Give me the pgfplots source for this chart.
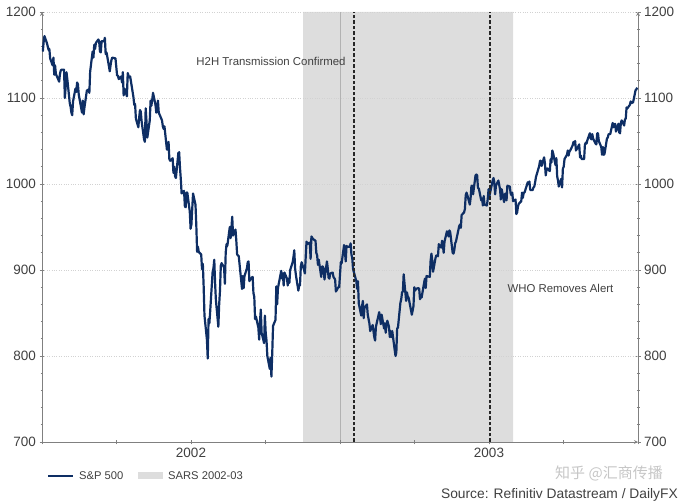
\documentclass[border=0pt]{standalone}
\usepackage{fontspec}
\setmainfont{Liberation Sans}
\newfontfamily\cjk{Noto Sans CJK SC}
\usepackage{pgfplots}
\pgfplotsset{compat=1.18}

\definecolor{spblue}{RGB}{14,46,100}
\definecolor{sarsgray}{RGB}{221,221,221}
\definecolor{axisgray}{RGB}{128,128,128}
\definecolor{txtgray}{RGB}{64,64,64}

% x = days since 1 Jan 2002
\pgfplotsset{
  base/.style={
    at={(42bp,60bp)}, anchor=south west, scale only axis,
    width=596bp, height=430bp,
    xmin=0, xmax=730, ymin=700, ymax=1200,
    ytick={700,800,...,1200}, minor y tick num=4,
    tick align=outside, major tick length=5bp, minor tick length=3bp,
    axis line style={-, axisgray, line width=0.8bp},
    tick style={axisgray, line width=0.8bp},
    ticklabel style={font=\fontsize{13.5bp}{16bp}\selectfont, text=txtgray},
    /pgf/number format/1000 sep={},
    /pgf/number format/assume math mode=true,
  }
}

\begin{document}
\begin{tikzpicture}
\path[use as bounding box] (0,0) rectangle (680bp,502bp);

% right axis + SARS period
\begin{axis}[base, axis y line=right, axis x line=none]
  \addplot[fill=sarsgray, draw=none] coordinates {(319.7,700)(319.7,1200)(577,1200)(577,700)} \closedcycle;
  \addplot[gray!60, line width=0.5bp] coordinates {(365,700)(365,1200)};
\end{axis}

% left axis + S&P 500
\begin{axis}[base, axis y line=left, axis x line=bottom,
  xtick={0,91.25,182.5,273.75,365,456.25,547.5,638.75,730},
  xticklabels={,,2002,,,,2003,,},
  ymajorgrids, major grid style={gray!35, dotted, line width=0.7bp}]
  \addplot[spblue, line width=2.2bp, line join=round] coordinates {
    (1,1154)(2,1165)(3,1172)(6,1164)(7,1160)(8,1156)(9,1157)(10,1146)(13,1138)(14,1147)(15,1127)(16,1138)(17,1128)(21,1119)(22,1128)(23,1132)(24,1133)(27,1133)(28,1100)(29,1113)(30,1130)
    (31,1122)(34,1094)(35,1090)(36,1083)(37,1080)(38,1096)(41,1111)(42,1107)(43,1118)(44,1116)(45,1104)(49,1083)(50,1097)(51,1081)(52,1089)(55,1109)(56,1109)(57,1110)(58,1106)
    (59,1131)(62,1154)(63,1147)(64,1162)(65,1157)(66,1164)(69,1168)(70,1166)(71,1154)(72,1153)(73,1166)(76,1166)(77,1170)(78,1151)(79,1153)(80,1148)(83,1131)(84,1138)(85,1144)(86,1147)
    (90,1146)(91,1136)(92,1126)(93,1126)(94,1122)(97,1125)(98,1118)(99,1130)(100,1103)(101,1111)(104,1102)(105,1129)(106,1126)(107,1124)(108,1125)(111,1107)(112,1101)(113,1092)(114,1093)(115,1076)(118,1066)(119,1077)
    (120,1086)(121,1084)(122,1073)(125,1052)(126,1049)(127,1088)(128,1073)(129,1054)(132,1074)(133,1097)(134,1091)(135,1098)(136,1106)(139,1092)(140,1083)(141,1086)(142,1097)(143,1083)(147,1074)(148,1067)(149,1064)(150,1067)
    (153,1040)(154,1040)(155,1049)(156,1029)(157,1027)(160,1030)(161,1013)(162,1020)(163,1009)(164,1007)(167,1036)(168,1037)(169,1019)(170,1006)(171,989)(174,992)(175,974)(176,973)(177,990)(178,990)
    (181,968)(182,948)(183,953)(185,989)(188,976)(189,952)(190,921)(191,927)(192,921)(195,918)(196,901)(197,907)(198,881)(199,847)(202,819)(203,797)(204,843)(205,838)(206,852)(209,898)(210,902)(211,912)
    (212,885)(213,865)(216,834)(217,860)(218,876)(219,905)(220,908)(223,903)(224,884)(225,920)(226,930)(227,928)(230,950)(231,937)(232,949)(233,962)(234,940)(237,947)(238,934)(239,918)(240,917)(241,916)
    (245,878)(246,893)(247,879)(248,893)(251,902)(252,909)(253,910)(254,887)(255,889)(258,892)(259,873)(260,869)(261,843)(262,846)(265,833)(266,819)(267,840)(268,854)(269,827)(272,815)
    (273,847)(274,827)(275,818)(276,800)(279,785)(280,798)(281,776)(282,803)(283,835)(286,842)(287,881)(288,860)(289,879)(290,884)(293,899)(294,890)(295,896)(296,882)(297,897)(300,890)(301,882)(302,890)(303,885)
    (304,900)(307,909)(308,915)(309,923)(310,902)(311,894)(314,876)(315,882)(316,882)(317,904)(318,909)(321,900)(322,896)(323,915)(324,933)(325,930)(328,932)(329,913)(330,939)(332,936)
    (335,934)(336,920)(337,917)(338,906)(339,912)(342,892)(343,904)(344,904)(345,901)(346,889)(349,910)(350,902)(351,891)(352,890)(353,896)(356,897)(357,892)(359,889)(360,875)(363,880)(364,880)
    (366,909)(367,908)(370,929)(371,922)(372,910)(373,928)(374,927)(377,927)(378,931)(379,918)(380,914)(381,901)(385,887)(386,878)(387,887)(388,861)(391,847)(392,858)(393,864)(394,844)(395,856)
    (398,860)(399,848)(400,843)(401,838)(402,829)(405,836)(406,829)(407,822)(408,818)(409,834)(413,851)(414,845)(415,837)(416,848)(419,832)(420,838)(421,827)(422,837)(423,841)
    (425,834)(426,822)(427,829)(428,822)(429,829)(432,807)(433,800)(434,804)(435,832)(436,833)(439,862)(440,866)(441,874)(442,875)(443,895)(446,864)(447,874)(448,869)(449,868)(450,863)(453,848)
    (455,858)(456,880)(457,876)(458,878)(461,879)(462,878)(463,866)(464,871)(465,868)(468,885)(469,890)(470,879)(471,893)(475,892)(476,911)(477,919)(478,911)(479,898)(482,914)(483,917)(484,917)
    (485,916)(486,930)(489,926)(490,934)(491,929)(492,920)(493,933)(496,945)(497,942)(498,939)(499,946)(500,944)(503,920)(504,919)(505,923)(506,931)(507,933)(511,951)(512,953)(513,949)(514,964)
    (517,967)(518,971)(519,987)(520,990)(521,987)(524,976)(525,984)(526,998)(527,998)(528,988)(531,1010)(532,1011)(533,1010)(534,995)(535,995)(538,981)(539,983)(540,975)(541,986)(542,976)(545,975)
    (546,983)(547,994)(548,986)(552,1004)(553,1007)(554,1002)(555,988)(556,998)(559,1004)(560,999)(561,994)(562,982)(563,994)(566,979)(567,988)(568,989)(569,981)(570,998)(573,997)(574,989)(575,987)(576,990)
    (577,980)(580,982)(581,965)(582,967)(583,974)(584,977)(587,980)(588,990)(589,984)(590,990)(591,990)(594,999)(595,1002)(596,1000)(597,1003)(598,993)(601,993)(602,996)(603,997)(604,1002)(605,1008)
    (609,1021)(610,1027)(611,1027)(612,1021)(615,1031)(616,1024)(617,1010)(618,1017)(619,1018)(622,1015)(623,1029)(624,1025)(625,1039)(626,1036)(629,1022)(630,1030)(631,1009)(632,1004)(633,997)(636,1006)(637,996)
    (638,1018)(639,1020)(640,1029)(643,1034)(644,1039)(645,1033)(646,1038)(647,1039)(650,1045)(651,1049)(652,1046)(653,1050)(654,1039)(657,1044)(658,1046)(659,1031)(660,1033)(661,1029)(664,1029)(665,1046)(666,1048)(667,1047)(668,1051)
    (671,1059)(672,1053)(673,1052)(674,1058)(675,1053)(678,1047)(679,1046)(680,1059)(681,1059)(682,1050)(685,1043)(686,1034)(687,1043)(688,1034)(689,1035)(692,1053)(693,1054)(694,1058)(696,1058)
    (699,1071)(700,1066)(701,1069)(702,1070)(703,1061)(706,1070)(707,1060)(708,1059)(709,1071)(710,1074)(713,1068)(714,1075)(715,1076)(716,1089)(717,1088)(720,1092)(721,1096)(722,1094)(724,1095)(727,1109)(728,1110)(729,1112)
  };
  \addplot[black!85, line width=2.2bp, dash pattern=on 3.5bp off 2bp] coordinates {(382,700)(382,1200)};
  \addplot[black!85, line width=2.2bp, dash pattern=on 3.5bp off 2bp] coordinates {(548.7,700)(548.7,1200)};
  \node[font=\fontsize{11.4bp}{13bp}\selectfont, text=txtgray] at (axis cs:280.5,1142) {H2H Transmission Confirmed};
  \node[font=\fontsize{11.4bp}{13bp}\selectfont, text=txtgray] at (axis cs:635,879) {WHO Removes Alert};
\end{axis}

% legend and source
\draw[spblue, line width=2.2bp] (48bp,26bp) -- (73bp,26bp);
\node[anchor=west, inner sep=0, font=\fontsize{11.2bp}{13bp}\selectfont, text=txtgray] at (79bp,26bp) {S\&P 500};
\fill[sarsgray] (138bp,22.5bp) rectangle (163bp,29.5bp);
\node[anchor=west, inner sep=0, font=\fontsize{11.2bp}{13bp}\selectfont, text=txtgray] at (168bp,26bp) {SARS 2002-03};
\node[anchor=west, inner sep=0, font=\cjk\fontsize{15bp}{17bp}\selectfont, text=gray!45] at (555bp,29bp) {知乎 @汇商传播};
\node[anchor=east, inner sep=0, font=\fontsize{13.8bp}{16bp}\selectfont, text=txtgray] at (678bp,7bp) {Source: Refinitiv Datastream / DailyFX};
\end{tikzpicture}
\end{document}
